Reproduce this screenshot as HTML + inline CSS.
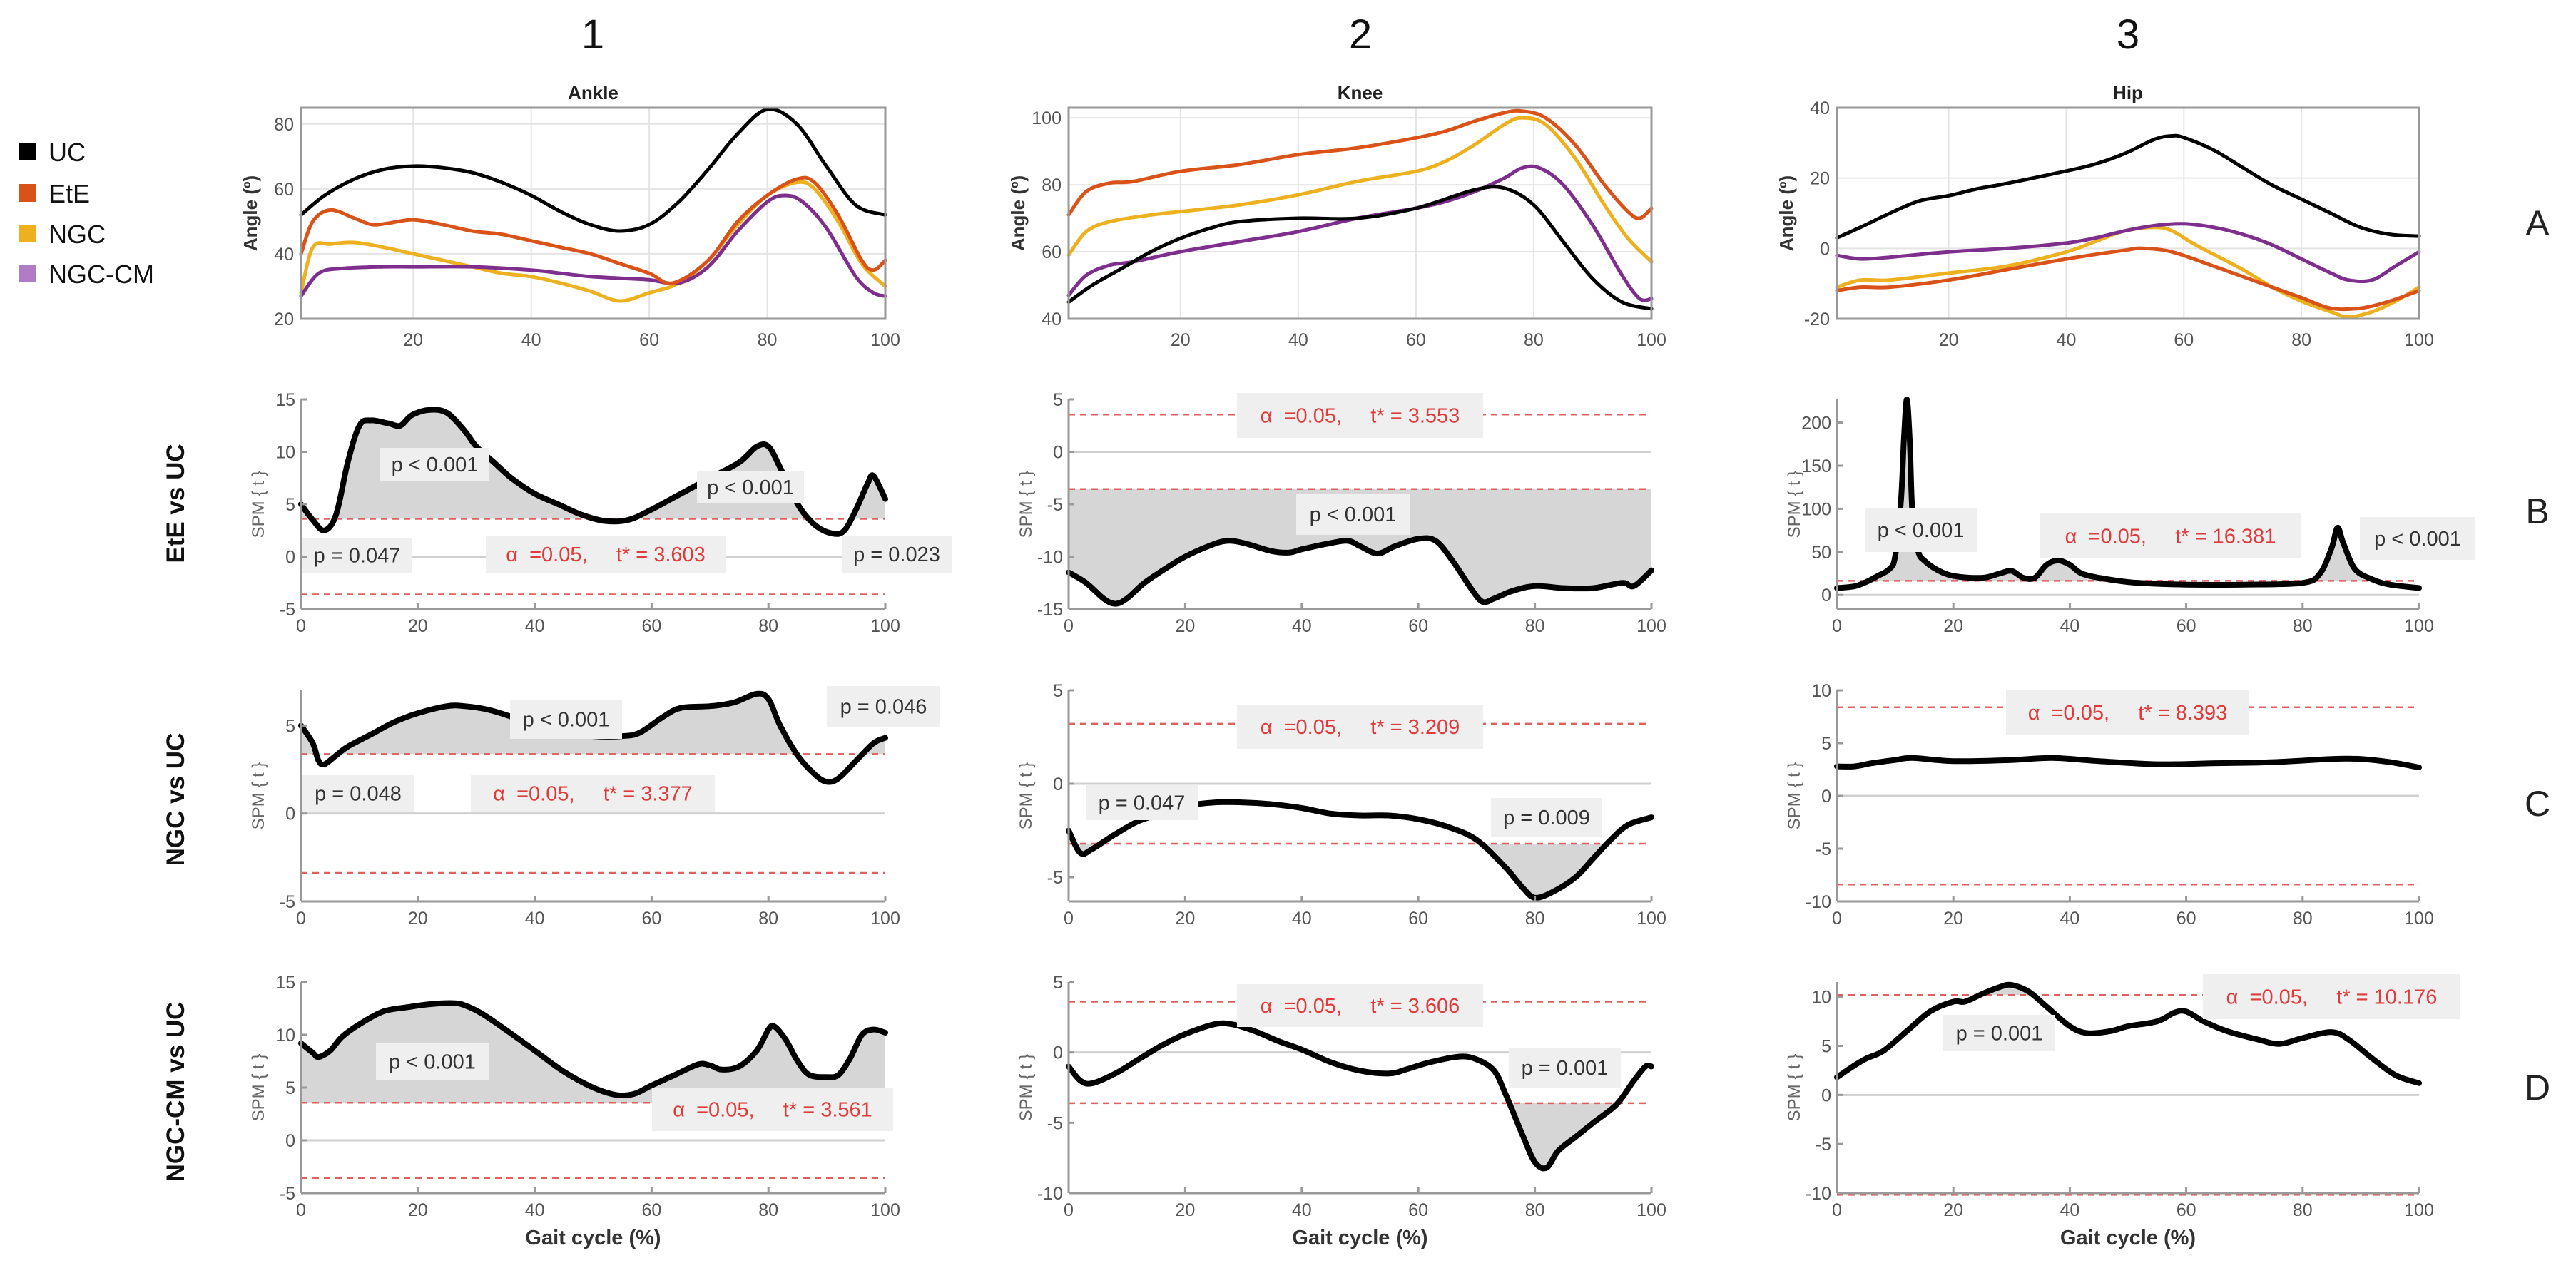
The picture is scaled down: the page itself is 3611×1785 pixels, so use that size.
<!DOCTYPE html>
<html><head><meta charset="utf-8">
<style>
html,body{margin:0;padding:0;background:#fff;}
svg{display:block;font-family:"Liberation Sans",sans-serif;}
.pre{white-space:pre;}
</style></head>
<body>
<svg id="fig" width="3611" height="1785" viewBox="0 0 3611 1785" xmlns="http://www.w3.org/2000/svg">
  <rect x="0" y="0" width="3611" height="1785" fill="#fff"/>
  <g font-size="58" fill="#111" text-anchor="middle">
    <text x="831" y="68">1</text>
    <text x="1907" y="68">2</text>
    <text x="2983" y="68">3</text>
  </g>
  <g font-size="50" fill="#222" text-anchor="middle">
    <text x="3557" y="330">A</text>
    <text x="3557" y="734">B</text>
    <text x="3557" y="1144">C</text>
    <text x="3557" y="1542">D</text>
  </g>
  <g font-size="36" fill="#111">
    <g><rect x="26" y="200" width="25" height="25" fill="#000"/><text x="68" y="226">UC</text></g>
    <g><rect x="26" y="258" width="25" height="25" fill="#d95319"/><text x="68" y="284">EtE</text></g>
    <g><rect x="26" y="315" width="25" height="25" fill="#edb120"/><text x="68" y="341">NGC</text></g>
    <g><rect x="26" y="371" width="25" height="25" fill="#b07cc6"/><text x="68" y="397">NGC-CM</text></g>
  </g>
  <g font-size="35" font-weight="bold" fill="#111" text-anchor="middle">
    <text transform="translate(258,706) rotate(-90)">EtE vs UC</text>
    <text transform="translate(258,1121) rotate(-90)">NGC vs UC</text>
    <text transform="translate(258,1531) rotate(-90)">NGC-CM vs UC</text>
  </g>
  <g id="plots"></g>
</svg>
<script>
// ---------- Data: joint angles (x = gait cycle %, y = degrees) ----------
const ankleUC  = [[1,52],[5,58],[10,63],[15,66],[20,67],[25,66.5],[30,65],[35,62],[40,58],[45,53],[50,49],[55,47],[60,49],[65,56],[70,66],[75,77],[80,84.5],[85,80],[90,67],[95,55],[100,52]];
const ankleEtE = [[1,40],[3,50],[6,53.5],[10,51],[13,49],[16,49.5],[20,50.5],[25,49],[30,47],[35,46],[40,44],[45,42],[50,40],[55,37],[60,34],[64,31],[70,38],[75,50],[80,58],[85,63],[88,62],[92,52],[96,38],[98,35],[100,38]];
const ankleNGC = [[1,28],[3,42],[6,43],[10,43.5],[15,42],[20,40],[25,38],[30,36],[35,34],[40,33],[45,31],[50,28.5],[55,25.5],[60,28],[65,31],[70,38],[75,49],[80,58],[85,62],[88,60],[92,50],[96,37],[100,30]];
const ankleCM  = [[1,27],[4,34],[8,35.5],[15,36],[20,36],[30,36],[40,35],[45,34],[50,33],[55,32.5],[60,32],[65,31],[70,36],[75,47],[80,56],[83,58],[86,56],[90,48],[95,33],[98,28],[100,27]];
const kneeUC   = [[1,45],[5,50],[10,55],[15,60],[20,64],[25,67],[30,69],[40,70],[50,70],[60,73],[70,78.5],[75,79],[80,74],[85,63],[90,52],[95,45],[100,43]];
const kneeEtE  = [[1,71],[4,78],[8,80.5],[12,81],[20,84],[30,86],[40,89],[50,91],[60,94],[65,96],[70,99],[75,101.5],[78,102],[82,100],[87,92],[92,80],[96,72],[98,70],[100,73]];
const kneeNGC  = [[1,59],[4,66],[8,69],[15,71],[20,72],[30,74],[40,77],[50,81],[60,84],[65,87],[70,92],[75,98],[78,100],[82,98],[87,88],[92,74],[96,64],[100,57]];
const kneeCM   = [[1,47],[4,53],[8,56],[12,57],[20,60],[30,63],[40,66],[50,70],[60,73],[65,75],[70,78],[75,82],[78,85],[81,85],[85,80],[90,68],[95,53],[98,46],[100,46]];
const hipUC    = [[1,3],[5,6],[10,10],[15,13.5],[20,15],[25,17],[30,18.5],[40,22],[45,24],[50,27],[55,31],[58,32],[60,31.5],[65,28],[70,23],[75,18],[80,14],[85,10],[90,6],[95,4],[100,3.5]];
const hipEtE   = [[1,-12],[5,-11],[10,-11],[20,-9],[30,-6],[40,-3],[50,-0.5],[53,0],[58,-1],[65,-5],[70,-8],[75,-11],[80,-14],[85,-17],[90,-17],[95,-15],[100,-12]];
const hipNGC   = [[1,-11],[5,-9],[10,-9],[20,-7],[30,-5],[40,-1],[45,2],[50,5],[55,6],[58,5],[62,1],[70,-6],[75,-11],[80,-15],[85,-18],[88,-19.5],[92,-18],[96,-15],[100,-11]];
const hipCM    = [[1,-2],[5,-3],[10,-2.5],[20,-1],[30,0],[40,1.5],[45,3],[50,5],[55,6.5],[60,7],[65,6],[70,4],[75,1],[80,-3],[85,-7],[88,-9],[92,-9],[96,-5],[100,-1]];
// ---------- Data: SPM{t} curves ----------
const spmB1 = [[0,5],[2,3.5],[4,2.5],[6,4],[8,9],[10,12.5],[12,13],[15,12.7],[17,12.5],[19,13.5],[22,14],[25,13.7],[28,12],[30,10.5],[33,9],[36,7.5],[40,6],[44,5],[48,4],[52,3.4],[56,3.5],[60,4.5],[65,6],[70,7.5],[75,9],[78,10.5],[80,10.5],[82,8.5],[85,5],[88,3],[91,2.2],[93,2.5],[95,4.5],[97,7],[98,7.7],[100,5.5]];
const spmB2 = [[0,-11.5],[3,-12.5],[6,-14],[8,-14.5],[10,-14],[13,-12.5],[17,-11],[20,-10],[24,-9],[27,-8.5],[30,-8.7],[35,-9.5],[38,-9.6],[40,-9.3],[45,-8.7],[48,-8.5],[50,-9],[53,-9.7],[56,-9],[60,-8.3],[63,-8.5],[66,-10.5],[69,-13],[71,-14.3],[73,-14],[76,-13.3],[80,-12.8],[85,-13],[90,-13],[95,-12.5],[97,-12.8],[100,-11.3]];
const spmB3 = [[0,8],[3,10],[5,15],[7,22],[9,30],[10,45],[11,110],[11.5,180],[12,227],[12.5,180],[13,90],[14,50],[15,40],[17,30],[20,22],[25,20],[28,25],[30,28],[32,20],[34,20],[36,35],[38,40],[40,35],[42,25],[45,20],[50,15],[55,13],[60,12],[70,12],[80,14],[83,25],[85,55],[86,78],[87,60],[89,30],[92,18],[95,12],[100,8]];
const spmC1 = [[0,5],[2,4],[3,3],[4,2.8],[6,3.3],[8,3.8],[12,4.5],[16,5.2],[20,5.7],[25,6.1],[28,6.1],[32,5.9],[36,5.5],[40,5.0],[45,4.6],[50,4.4],[55,4.4],[58,4.6],[62,5.5],[65,6],[70,6.1],[74,6.3],[78,6.8],[80,6.5],[82,5],[85,3.3],[88,2.2],[90,1.8],[92,2],[95,3],[98,4],[100,4.3]];
const spmC2 = [[0,-2.5],[2,-3.7],[4,-3.5],[8,-2.7],[12,-2],[16,-1.6],[20,-1.2],[25,-1],[30,-1],[35,-1.1],[40,-1.3],[45,-1.6],[50,-1.7],[55,-1.7],[60,-1.9],[65,-2.3],[70,-3],[75,-4.5],[78,-5.6],[80,-6.1],[83,-5.8],[87,-5],[90,-4],[93,-3],[96,-2.2],[100,-1.8]];
const spmC3 = [[0,2.8],[3,2.8],[6,3.1],[10,3.4],[13,3.6],[20,3.3],[30,3.4],[37,3.6],[45,3.3],[55,3.0],[65,3.1],[75,3.2],[85,3.5],[90,3.5],[95,3.2],[100,2.7]];
const spmD1 = [[0,9.2],[2,8.3],[3,7.9],[5,8.5],[7,9.8],[10,11],[14,12.2],[18,12.6],[22,12.9],[26,13],[28,12.8],[31,12],[35,10.5],[40,8.5],[45,6.5],[50,5],[54,4.3],[57,4.4],[60,5.2],[64,6.2],[68,7.2],[70,7.1],[72,6.7],[75,7],[78,8.5],[80,10.5],[81,10.8],[83,9.5],[85,7.5],[87,6.2],[90,6],[92,6.2],[94,7.8],[96,10],[98,10.5],[100,10.2]];
const spmD2 = [[0,-1],[2,-2],[4,-2.2],[8,-1.5],[12,-0.5],[16,0.5],[20,1.3],[25,2],[28,2],[32,1.5],[36,0.8],[40,0.2],[45,-0.7],[50,-1.3],[55,-1.5],[58,-1.2],[62,-0.7],[67,-0.3],[70,-0.5],[73,-1.3],[75,-3],[78,-6],[80,-7.8],[82,-8.2],[84,-7],[87,-6],[90,-5],[94,-3.7],[97,-2],[99,-1],[100,-1]];
const spmD3 = [[0,1.8],[3,3],[5,3.7],[8,4.5],[12,6.5],[16,8.5],[20,9.5],[22,9.5],[25,10.3],[28,11],[30,11.2],[33,10.5],[36,9],[40,7],[43,6.3],[47,6.5],[50,7],[55,7.5],[58,8.4],[60,8.5],[63,7.5],[67,6.5],[72,5.7],[76,5.2],[80,5.8],[85,6.4],[88,5.6],[92,3.7],[96,2],[100,1.2]];
// thresholds t*
const thresholds = [3.603, 3.553, 16.381, 3.377, 3.209, 8.393, 3.561, 3.606, 10.176];
// tick labels
const angleXTicks = [20,40,60,80,100];
const spmXTicks = [0,20,40,60,80,100];
const ankleYTicks = [20,40,60,80];
const kneeYTicks = [40,60,80,100];
const hipYTicks = [-20,0,20,40];

const NS = 'http://www.w3.org/2000/svg';
const root = document.getElementById('plots');
function mk(tag, attrs, parent){
  const e = document.createElementNS(NS, tag);
  for (const k in attrs) e.setAttribute(k, attrs[k]);
  (parent||root).appendChild(e);
  return e;
}
const cols = [[422,1241],[1498,2315],[2575,3391]];
const rows = [[151,447],[560,854],[968,1264],[1377,1673]];

function smoothPath(pts){
  let d = 'M'+pts[0][0].toFixed(1)+','+pts[0][1].toFixed(1);
  for (let i=0;i<pts.length-1;i++){
    const p0=pts[i-1]||pts[i], p1=pts[i], p2=pts[i+1], p3=pts[i+2]||p2;
    const c1=[p1[0]+(p2[0]-p0[0])/6, p1[1]+(p2[1]-p0[1])/6];
    const c2=[p2[0]-(p3[0]-p1[0])/6, p2[1]-(p3[1]-p1[1])/6];
    d+=' C'+c1[0].toFixed(1)+','+c1[1].toFixed(1)+' '+c2[0].toFixed(1)+','+c2[1].toFixed(1)+' '+p2[0].toFixed(1)+','+p2[1].toFixed(1);
  }
  return d;
}

let clipId = 0;
function makeAxes(ci, ri, xmin, xmax, ymin, ymax){
  const [x0,x1]=cols[ci], [y0,y1]=rows[ri];
  return {x0,x1,y0,y1,
    sx: v => x0 + (v-xmin)/(xmax-xmin)*(x1-x0),
    sy: v => y1 - (v-ymin)/(ymax-ymin)*(y1-y0)};
}

function anglePanel(ci, title, ymin, ymax, yticks, series, name){
  const ax = makeAxes(ci, 0, 1, 100, ymin, ymax);
  const g = mk('g', {});
  
  
  mk('rect', {x:ax.x0,y:ax.y0,width:ax.x1-ax.x0,height:ax.y1-ax.y0,fill:'#fff'}, g);
  angleXTicks.forEach(t=>{
    mk('line',{x1:ax.sx(t),x2:ax.sx(t),y1:ax.y0,y2:ax.y1,stroke:'#e4e4e4','stroke-width':2},g);
    const tx = mk('text',{x:ax.sx(t),y:ax.y1+38,'text-anchor':'middle','font-size':25,fill:'#555'},g);
    tx.textContent = t;
  });
  yticks.forEach(t=>{
    mk('line',{x1:ax.x0,x2:ax.x1,y1:ax.sy(t),y2:ax.sy(t),stroke:'#e4e4e4','stroke-width':2},g);
    const ty = mk('text',{x:ax.x0-10,y:ax.sy(t)+9,'text-anchor':'end','font-size':25,fill:'#555'},g);
    ty.textContent = t;
  });
  series.forEach(s=>{
    const p = mk('path',{d:smoothPath(s.data.map(d=>[ax.sx(d[0]),ax.sy(d[1])])),fill:'none',stroke:s.color,'stroke-width':5,'stroke-linejoin':'round','stroke-linecap':'round'},g);
    
    
  });
  mk('rect',{x:ax.x0,y:ax.y0,width:ax.x1-ax.x0,height:ax.y1-ax.y0,fill:'none',stroke:'#999','stroke-width':3},g);
  const tt = mk('text',{x:(ax.x0+ax.x1)/2,y:ax.y0-12,'text-anchor':'middle','font-size':26,'font-weight':'bold',fill:'#222'},g);
  tt.textContent = title;
  
  
  const yl = mk('text',{transform:'translate('+(ax.x0-62)+','+((ax.y0+ax.y1)/2)+') rotate(-90)','text-anchor':'middle','font-size':26,'font-weight':'bold',fill:'#333'},g);
  yl.textContent = 'Angle (º)';
  
  
}

function spmPanel(ci, ri, ymin, ymax, yticks, data, thr, labels, name, showX){
  const ax = makeAxes(ci, ri, 0, 100, ymin, ymax);
  const g = mk('g', {});
  
  
  const pts = data.map(d=>[ax.sx(d[0]),ax.sy(d[1])]);
  const curveD = smoothPath(pts);
  [[thr, ax.y0, ax.sy(thr)-ax.y0],[-thr, ax.sy(-thr), ax.y1-ax.sy(-thr)]].forEach(([base, cy, ch])=>{
    if (ch <= 0) return;
    clipId++;
    const cp = mk('clipPath',{id:'cp'+clipId},g);
    mk('rect',{x:ax.x0,y:cy,width:ax.x1-ax.x0,height:ch},cp);
    const by = ax.sy(base).toFixed(1);
    const fd = 'M'+ax.x0+','+by+' L'+curveD.slice(1)+' L'+ax.x1+','+by+' Z';
    const sh = mk('path',{d:fd,fill:'#d6d6d6','clip-path':'url(#cp'+clipId+')'},g);
    
    
  });
  mk('line',{x1:ax.x0,x2:ax.x1,y1:ax.sy(0),y2:ax.sy(0),stroke:'#d0d0d0','stroke-width':3},g);
  [thr,-thr].forEach(v=>{
    const l = mk('line',{x1:ax.x0,x2:ax.x1,y1:ax.sy(v),y2:ax.sy(v),stroke:'#e06060','stroke-width':2.5,'stroke-dasharray':'9,7'},g);
    
    
  });
  const c = mk('path',{d:curveD,fill:'none',stroke:'#000','stroke-width':8,'stroke-linejoin':'round','stroke-linecap':'round'},g);
  
  
  labels.forEach(lb=>{
    mk('rect',{x:lb[0],y:lb[1],width:lb[2],height:lb[3],fill:'#efefef'},g);
    const t = mk('text',{x:lb[0]+lb[2]/2,y:lb[1]+lb[3]/2+10,'text-anchor':'middle','font-size':29,fill:lb[5]?'#e03a3a':'#333'},g);
    if (lb[5]) t.setAttribute('class','pre');
    t.textContent = lb[4];
    
    
  });
  mk('line',{x1:ax.x0,x2:ax.x0,y1:ax.y0,y2:ax.y1,stroke:'#999','stroke-width':3},g);
  mk('line',{x1:ax.x0,x2:ax.x1,y1:ax.y1,y2:ax.y1,stroke:'#999','stroke-width':3},g);
  spmXTicks.forEach(t=>{
    mk('line',{x1:ax.sx(t),x2:ax.sx(t),y1:ax.y1,y2:ax.y1-8,stroke:'#999','stroke-width':3},g);
    const tx = mk('text',{x:ax.sx(t),y:ax.y1+32,'text-anchor':'middle','font-size':25,fill:'#555'},g);
    tx.textContent = t;
  });
  yticks.forEach(t=>{
    mk('line',{x1:ax.x0,x2:ax.x0+8,y1:ax.sy(t),y2:ax.sy(t),stroke:'#999','stroke-width':3},g);
    const ty = mk('text',{x:ax.x0-8,y:ax.sy(t)+9,'text-anchor':'end','font-size':25,fill:'#555'},g);
    ty.textContent = t;
  });
  const yl = mk('text',{transform:'translate('+(ax.x0-52)+','+((ax.y0+ax.y1)/2)+') rotate(-90)','text-anchor':'middle','font-size':24,fill:'#666'},g);
  yl.textContent = 'SPM { t }';
  
  
  if (showX){
    const xl = mk('text',{x:(ax.x0+ax.x1)/2,y:ax.y1+72,'text-anchor':'middle','font-size':29,'font-weight':'bold',fill:'#333'},g);
    xl.textContent = 'Gait cycle (%)';
    
    
  }
}

const C_UC='#000000', C_E='#d95319', C_N='#edb120', C_M='#7e2f8e';
anglePanel(0,'Ankle',20,85,ankleYTicks,[{data:ankleNGC,color:C_N,name:'ankle-ngc-line'},{data:ankleCM,color:C_M,name:'ankle-ngc-cm-line'},{data:ankleEtE,color:C_E,name:'ankle-ete-line'},{data:ankleUC,color:C_UC,name:'ankle-uc-line'}],'ankle-angle-panel');
anglePanel(1,'Knee',40,103,kneeYTicks,[{data:kneeNGC,color:C_N,name:'knee-ngc-line'},{data:kneeCM,color:C_M,name:'knee-ngc-cm-line'},{data:kneeEtE,color:C_E,name:'knee-ete-line'},{data:kneeUC,color:C_UC,name:'knee-uc-line'}],'knee-angle-panel');
anglePanel(2,'Hip',-20,40,hipYTicks,[{data:hipNGC,color:C_N,name:'hip-ngc-line'},{data:hipCM,color:C_M,name:'hip-ngc-cm-line'},{data:hipEtE,color:C_E,name:'hip-ete-line'},{data:hipUC,color:C_UC,name:'hip-uc-line'}],'hip-angle-panel');

const A = (v)=>'α  =0.05,     t* = '+v;
spmPanel(0,1,-5,15,[-5,0,5,10,15],spmB1,thresholds[0],[[533,628,153,46,'p < 0.001'],[977,660,150,46,'p < 0.001'],[423,754,155,49,'p = 0.047'],[681,751,336,52,A('3.603'),1],[1180,751,154,52,'p = 0.023']],'spm-ankle-ete-vs-uc',false);
spmPanel(1,1,-15,5,[-15,-10,-5,0,5],spmB2,thresholds[1],[[1734,551,345,63,A('3.553'),1],[1817,692,159,58,'p < 0.001']],'spm-knee-ete-vs-uc',false);
spmPanel(2,1,-16.381,227,[0,50,100,150,200],spmB3,thresholds[2],[[2614,712,157,62,'p < 0.001'],[2860,720,365,63,A('16.381'),1],[3308,725,162,60,'p < 0.001']],'spm-hip-ete-vs-uc',false);
spmPanel(0,2,-5,7,[-5,0,5],spmC1,thresholds[3],[[423,1087,158,51,'p = 0.048'],[660,1087,342,51,A('3.377'),1],[715,981,157,55,'p < 0.001'],[1159,962,159,57,'p = 0.046']],'spm-ankle-ngc-vs-uc',false);
spmPanel(1,2,-6.3,5,[-5,0,5],spmC2,thresholds[4],[[1734,988,345,62,A('3.209'),1],[1522,1101,157,49,'p = 0.047'],[2090,1119,156,54,'p = 0.009']],'spm-knee-ngc-vs-uc',false);
spmPanel(2,2,-10,10,[-10,-5,0,5,10],spmC3,thresholds[5],[[2812,968,341,62,A('8.393'),1]],'spm-hip-ngc-vs-uc',false);
spmPanel(0,3,-5,15,[-5,0,5,10,15],spmD1,thresholds[6],[[527,1463,158,51,'p < 0.001'],[914,1525,338,61,A('3.561'),1]],'spm-ankle-ngc-cm-vs-uc',true);
spmPanel(1,3,-10,5,[-10,-5,0,5],spmD2,thresholds[7],[[1734,1380,345,60,A('3.606'),1],[2115,1469,157,56,'p = 0.001']],'spm-knee-ngc-cm-vs-uc',true);
spmPanel(2,3,-10,11.5,[-10,-5,0,5,10],spmD3,thresholds[8],[[2724,1423,157,51,'p = 0.001'],[3088,1366,361,63,A('10.176'),1]],'spm-hip-ngc-cm-vs-uc',true);
</script>
</body></html>
